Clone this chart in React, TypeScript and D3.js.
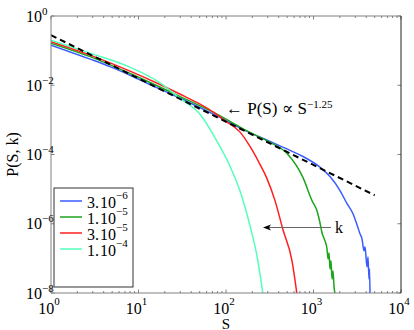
import React from "react";
import * as d3 from "d3";

// ---- data ----
const S_BLUE = [1, 2.8, 4.72, 8, 15.4, 30, 85, 174, 318, 539, 759, 1186, 1545, 2009, 2416, 2827, 3141, 3398, 3583, 3776, 3878, 4087, 4198, 4307, 4367, 4426];
const P_BLUE = [0.144, 0.0567, 0.0344, 0.0195, 9.05e-3, 4.2e-3, 1.18e-3, 4.65e-4, 2.38e-4, 1.31e-4, 8.75e-5, 4.3e-5, 2.3e-5, 9.06e-6, 3.8e-6, 1.95e-6, 9.36e-7, 5.13e-7, 3.67e-7, 1.65e-7, 2.15e-7, 5.68e-8, 1.1e-7, 2.55e-8, 4.97e-8, 9e-9];

const S_GREEN = [1, 2.8, 8, 30, 85, 174, 318, 498, 759, 961, 1096, 1186, 1250, 1353, 1427, 1466, 1504, 1545, 1585, 1627, 1671, 1714, 1762];
const P_GREEN = [0.165, 0.067, 0.0218, 4.7e-3, 1.33e-3, 4.8e-4, 2.23e-4, 1.07e-4, 2.15e-5, 4.65e-6, 2.38e-6, 1.07e-6, 5.48e-7, 3.21e-7, 1.88e-7, 9.68e-8, 1.44e-7, 4.97e-8, 8.47e-8, 2.55e-8, 4.35e-8, 1.6e-8, 9e-9];

const S_RED = [1, 2.8, 8, 17.6, 30, 50.5, 71, 97, 144, 188, 245, 294, 363, 448, 568, 648];
const P_RED = [0.182, 0.0741, 0.0255, 0.0105, 5.5e-3, 2.85e-3, 1.7e-3, 9.5e-4, 4.5e-4, 1.71e-4, 5.13e-5, 2.01e-5, 4.65e-6, 6.7e-7, 8.47e-8, 9e-9];

const S_CYAN = [1, 2.8, 8, 17.6, 30, 50.5, 79, 111, 144, 188, 226, 265];
const P_CYAN = [0.201, 0.0847, 0.0333, 0.0118, 4.1e-3, 1.45e-3, 2.4e-4, 4.6e-5, 9.06e-6, 8.75e-7, 1.18e-7, 9e-9];

const FIT_AMPLITUDE = 0.28;
const FIT_EXPONENT = -1.25;
const FIT_RANGE = [1, 5000];

const SERIES_LABELS = [
  { mant: "3.", exp: "−6" },
  { mant: "1.", exp: "−5" },
  { mant: "3.", exp: "−5" },
  { mant: "1.", exp: "−4" },
];
const SERIES_COLORS = ["#3a5cff", "#1ea51e", "#ff1f1f", "#55ffbb"];

const X_TICK_EXPS = [0, 1, 2, 3, 4];
const Y_TICK_EXPS = [0, -2, -4, -6, -8];

const W = 414;
const H = 330;
const L = 51, R = 401, T = 16, B = 293;
const FONT = "'Liberation Serif', 'DejaVu Serif', serif";

export default function App() {
  const x = d3.scaleLog().domain([1, 1e4]).range([L, R]);
  const y = d3.scaleLog().domain([1e-8, 1]).range([B, T]);

  const line = d3
    .line<[number, number]>()
    .x((d) => x(d[0]))
    .y((d) => y(d[1]))
    .curve(d3.curveMonotoneX);

  const series = [
    [S_BLUE, P_BLUE],
    [S_GREEN, P_GREEN],
    [S_RED, P_RED],
    [S_CYAN, P_CYAN],
  ].map(([s, p]) => s.map((v, i) => [v, p[i]] as [number, number]));

  const fitPts: [number, number][] = FIT_RANGE.map((s) => [s, FIT_AMPLITUDE * Math.pow(s, FIT_EXPONENT)]);
  const fitLine = d3
    .line<[number, number]>()
    .x((d) => x(d[0]))
    .y((d) => y(d[1]));

  const minorX: number[] = [];
  for (let e = 0; e < 4; e++) for (let m = 2; m <= 9; m++) minorX.push(m * Math.pow(10, e));

  const axisGray = "#808080";

  return (
    <svg width={W} height={H} style={{ position: "absolute", left: 0, top: 0, background: "#fff" }} fontFamily={FONT}>
      <defs>
        <clipPath id="plotclip">
          <rect x={L} y={T} width={R - L} height={B - T} />
        </clipPath>
      </defs>
      <rect x={0} y={0} width={W} height={H} fill="#fff" />

      {/* ticks */}
      {X_TICK_EXPS.map((e) => {
        const px = x(Math.pow(10, e));
        return (
          <g key={"xt" + e}>
            <line x1={px} x2={px} y1={B} y2={B - 3.5} stroke={axisGray} />
            <line x1={px} x2={px} y1={T} y2={T + 3.5} stroke={axisGray} />
          </g>
        );
      })}
      {minorX.map((v, i) => {
        const px = x(v);
        return (
          <g key={"xm" + i}>
            <line x1={px} x2={px} y1={B} y2={B - 2} stroke={axisGray} />
            <line x1={px} x2={px} y1={T} y2={T + 2} stroke={axisGray} />
          </g>
        );
      })}
      {Y_TICK_EXPS.map((e) => {
        const py = y(Math.pow(10, e));
        return (
          <g key={"yt" + e}>
            <line x1={L} x2={L + 3.5} y1={py} y2={py} stroke={axisGray} />
            <line x1={R} x2={R - 3.5} y1={py} y2={py} stroke={axisGray} />
          </g>
        );
      })}

      {/* curves */}
      <g clipPath="url(#plotclip)">
        {series.map((pts, i) => (
          <path key={"s" + i} d={line(pts) || ""} fill="none" stroke={SERIES_COLORS[i]} strokeWidth={1.5} />
        ))}
        <path d={fitLine(fitPts) || ""} fill="none" stroke="#000" strokeWidth={2} strokeDasharray="6,4" />
      </g>

      {/* axes box */}
      <line x1={L} x2={R} y1={T} y2={T} stroke={axisGray} />
      <line x1={L} x2={R} y1={B} y2={B} stroke={axisGray} />
      <line x1={L} x2={L} y1={T} y2={B} stroke={axisGray} />
      <line x1={R} x2={R} y1={T} y2={B} stroke="#222" />

      {/* x tick labels */}
      {X_TICK_EXPS.map((e) => {
        const px = x(Math.pow(10, e));
        return (
          <text key={"xl" + e} x={px - 2} y={314} textAnchor="middle" fontSize={16} fill="#000">
            <tspan>10</tspan>
            <tspan dy={-9} fontSize={11}>{e < 0 ? "−" + -e : String(e)}</tspan>
          </text>
        );
      })}
      {/* y tick labels */}
      {Y_TICK_EXPS.map((e) => {
        const py = y(Math.pow(10, e));
        return (
          <g key={"yl" + e}>
            <text x={42} y={py + 5.5} textAnchor="end" fontSize={16} fill="#000">10</text>
            <text x={42} y={py - 1.5} fontSize={11} fill="#000">{e < 0 ? "−" + -e : String(e)}</text>
          </g>
        );
      })}

      {/* axis labels */}
      <text x={(L + R) / 2} y={328.5} textAnchor="middle" fontSize={15} fill="#000">S</text>
      <text transform={`translate(18, ${(T + B) / 2}) rotate(-90)`} textAnchor="middle" fontSize={16} fill="#000">P(S, k)</text>

      {/* fit annotation */}
      <text x={226} y={114} fontSize={17} fill="#000">
        <tspan>← P(S) ∝ S</tspan>
        <tspan dy={-6} fontSize={11}>−1.25</tspan>
      </text>

      {/* k arrow */}
      <line x1={268} x2={331} y1={227.5} y2={227.5} stroke="#666" strokeWidth={1} />
      <path d="M263,227.5 L271,224.5 L269,227.5 L271,230.5 Z" fill="#000" />
      <text x={335} y={233} fontSize={16} fill="#000">k</text>

      {/* legend */}
      <rect x={54} y={188} width={79} height={99} fill="#fff" stroke="#333" strokeWidth={1} />
      {SERIES_LABELS.map((lab, i) => {
        const ly = 201 + i * 16;
        return (
          <g key={"lg" + i}>
            <line x1={60} x2={82} y1={ly} y2={ly} stroke={SERIES_COLORS[i]} strokeWidth={1.5} />
            <text x={87} y={ly + 6.5} fontSize={16} fill="#000">
              <tspan>{lab.mant}</tspan>
              <tspan dx={1}>10</tspan>
              <tspan dy={-9} fontSize={11}>{lab.exp}</tspan>
            </text>
          </g>
        );
      })}
    </svg>
  );
}
